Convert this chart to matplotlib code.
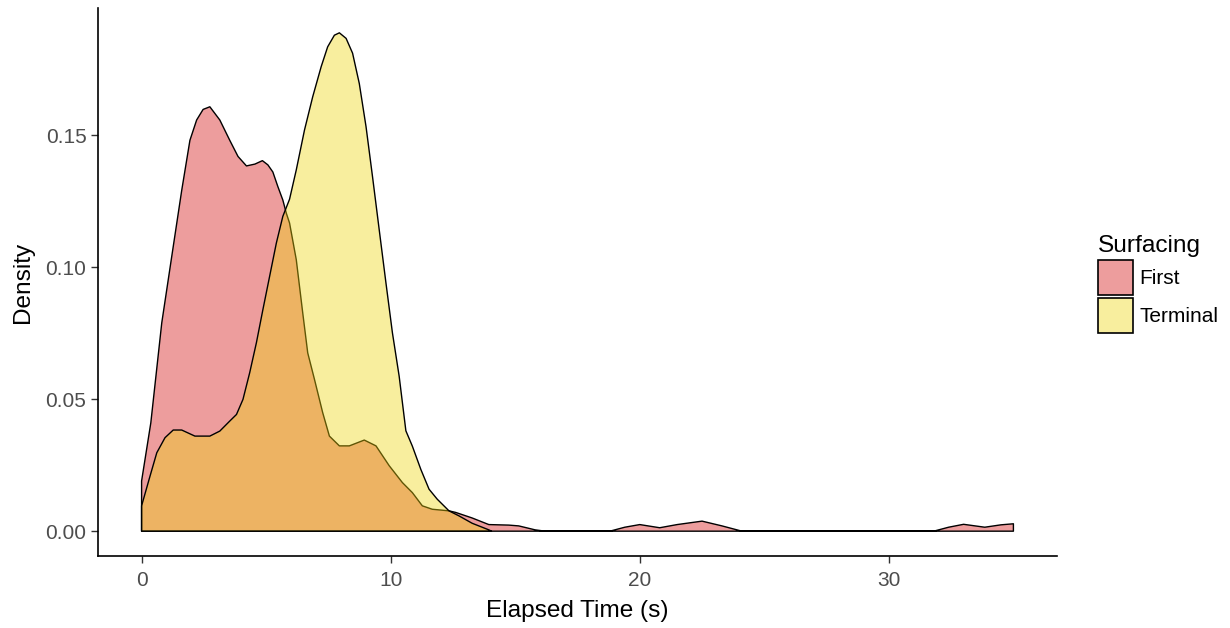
import matplotlib
matplotlib.use('Agg')
import matplotlib.pyplot as plt
from matplotlib.patches import Patch

plt.rcParams['font.family'] = ['Liberation Sans', 'DejaVu Sans']

# density curves (elapsed time in s, density)
first_x = [0.0, 0.37, 0.81, 1.21, 1.61, 1.94, 2.21, 2.47, 2.74, 3.14, 3.54, 3.87,
           4.21, 4.55, 4.85, 5.07, 5.27, 5.47, 5.67, 5.81, 5.94, 6.21, 6.47, 6.67,
           6.94, 7.27, 7.54, 7.94, 8.34, 8.94, 9.41, 9.94, 10.47, 10.87, 11.27,
           11.67, 12.34, 12.61, 13.27, 13.94, 14.74, 15.14, 15.8, 16.2, 18.8,
           19.4, 20.0, 20.8, 21.5, 22.5, 23.3, 24.1, 31.8, 32.4, 33.0, 33.85,
           34.5, 35.0]
first_y = [0.019, 0.041, 0.0789, 0.104, 0.129, 0.148, 0.1557, 0.1597, 0.1607,
           0.1557, 0.148, 0.1419, 0.1383, 0.139, 0.1403, 0.1387, 0.136, 0.1305,
           0.1254, 0.1204, 0.1167, 0.1028, 0.0826, 0.0675, 0.0575, 0.0449, 0.036,
           0.0323, 0.0323, 0.0345, 0.0323, 0.0248, 0.0184, 0.0146, 0.0096,
           0.0083, 0.0077, 0.0071, 0.005, 0.0025, 0.0023, 0.002, 0.0005, 0.0,
           0.0, 0.0015, 0.0025, 0.0013, 0.0025, 0.0038, 0.002, 0.0, 0.0, 0.0015,
           0.0026, 0.0015, 0.0024, 0.0028]

terminal_x = [0.0, 0.34, 0.61, 0.94, 1.27, 1.61, 2.14, 2.74, 3.14, 3.54, 3.81,
              4.07, 4.34, 4.61, 4.87, 5.14, 5.41, 5.67, 5.94, 6.21, 6.54, 6.87,
              7.21, 7.47, 7.74, 7.94, 8.21, 8.47, 8.74, 9.01, 9.27, 9.54, 9.81,
              10.07, 10.34, 10.61, 10.87, 11.21, 11.54, 11.87, 12.34, 12.74,
              13.27, 13.94, 14.05]
terminal_y = [0.0096, 0.0209, 0.0297, 0.0354, 0.0383, 0.0383, 0.036, 0.036,
              0.0379, 0.0417, 0.0442, 0.0499, 0.06, 0.0714, 0.0839, 0.0965,
              0.1091, 0.1192, 0.1257, 0.1368, 0.1519, 0.1645, 0.1759, 0.1834,
              0.1878, 0.1887, 0.1866, 0.181, 0.1695, 0.1532, 0.1343, 0.1141,
              0.094, 0.0751, 0.0587, 0.038, 0.0322, 0.0234, 0.0159, 0.0121,
              0.0077, 0.0058, 0.003, 0.0005, 0.0]

groups = ['First', 'Terminal']
fills = [(212/255., 10/255., 10/255., 0.4), (238/255., 213/255., 13/255., 0.4)]

xticks = [0, 10, 20, 30]
yticks = [0.0, 0.05, 0.10, 0.15]
ytick_labels = ['0.00', '0.05', '0.10', '0.15']

fg = plt.figure(figsize=(12.3, 6.28), dpi=100)
ax = fg.add_axes([98/1230., 1-556/628., (1057-98)/1230., (556-8)/628.])

for gx, gy, fc in [(first_x, first_y, fills[0]), (terminal_x, terminal_y, fills[1])]:
    px = list(gx) + [gx[-1], gx[0]]
    py = list(gy) + [0.0, 0.0]
    ax.fill(px, py, facecolor=fc, edgecolor='black', linewidth=1.0, joinstyle='round')

ax.set_xlim(-1.75, 36.75)
ax.set_ylim(-0.0094, 0.1981)
ax.set_xticks(xticks)
ax.set_yticks(yticks)
ax.set_yticklabels(ytick_labels)
ax.tick_params(axis='both', colors='#333333', labelcolor='#4D4D4D',
               labelsize=15, length=4.8, width=1.0)
ax.tick_params(axis='x', pad=6)
ax.tick_params(axis='y', pad=3.5)

for s in ['top', 'right']:
    ax.spines[s].set_visible(False)
for s in ['left', 'bottom']:
    ax.spines[s].set_linewidth(1.2)
    ax.spines[s].set_color('black')

ax.set_xlabel('Elapsed Time (s)', fontsize=17.6, labelpad=7)
ax.set_ylabel('Density', fontsize=17.6, labelpad=8)

handles = [Patch(facecolor=fills[i], edgecolor='black', linewidth=1.2, label=groups[i])
           for i in range(2)]
leg = fg.legend(handles=handles, title='Surfacing', loc='upper left',
                bbox_to_anchor=(1094/1230., 1-231/628.), frameon=False,
                fontsize=15, title_fontsize=17.6, handlelength=1.68,
                handleheight=2.21, labelspacing=0.14, handletextpad=0.3,
                borderpad=0.2, borderaxespad=0)
leg._legend_box.align = 'left'

fg.savefig('out.png', dpi=100)
